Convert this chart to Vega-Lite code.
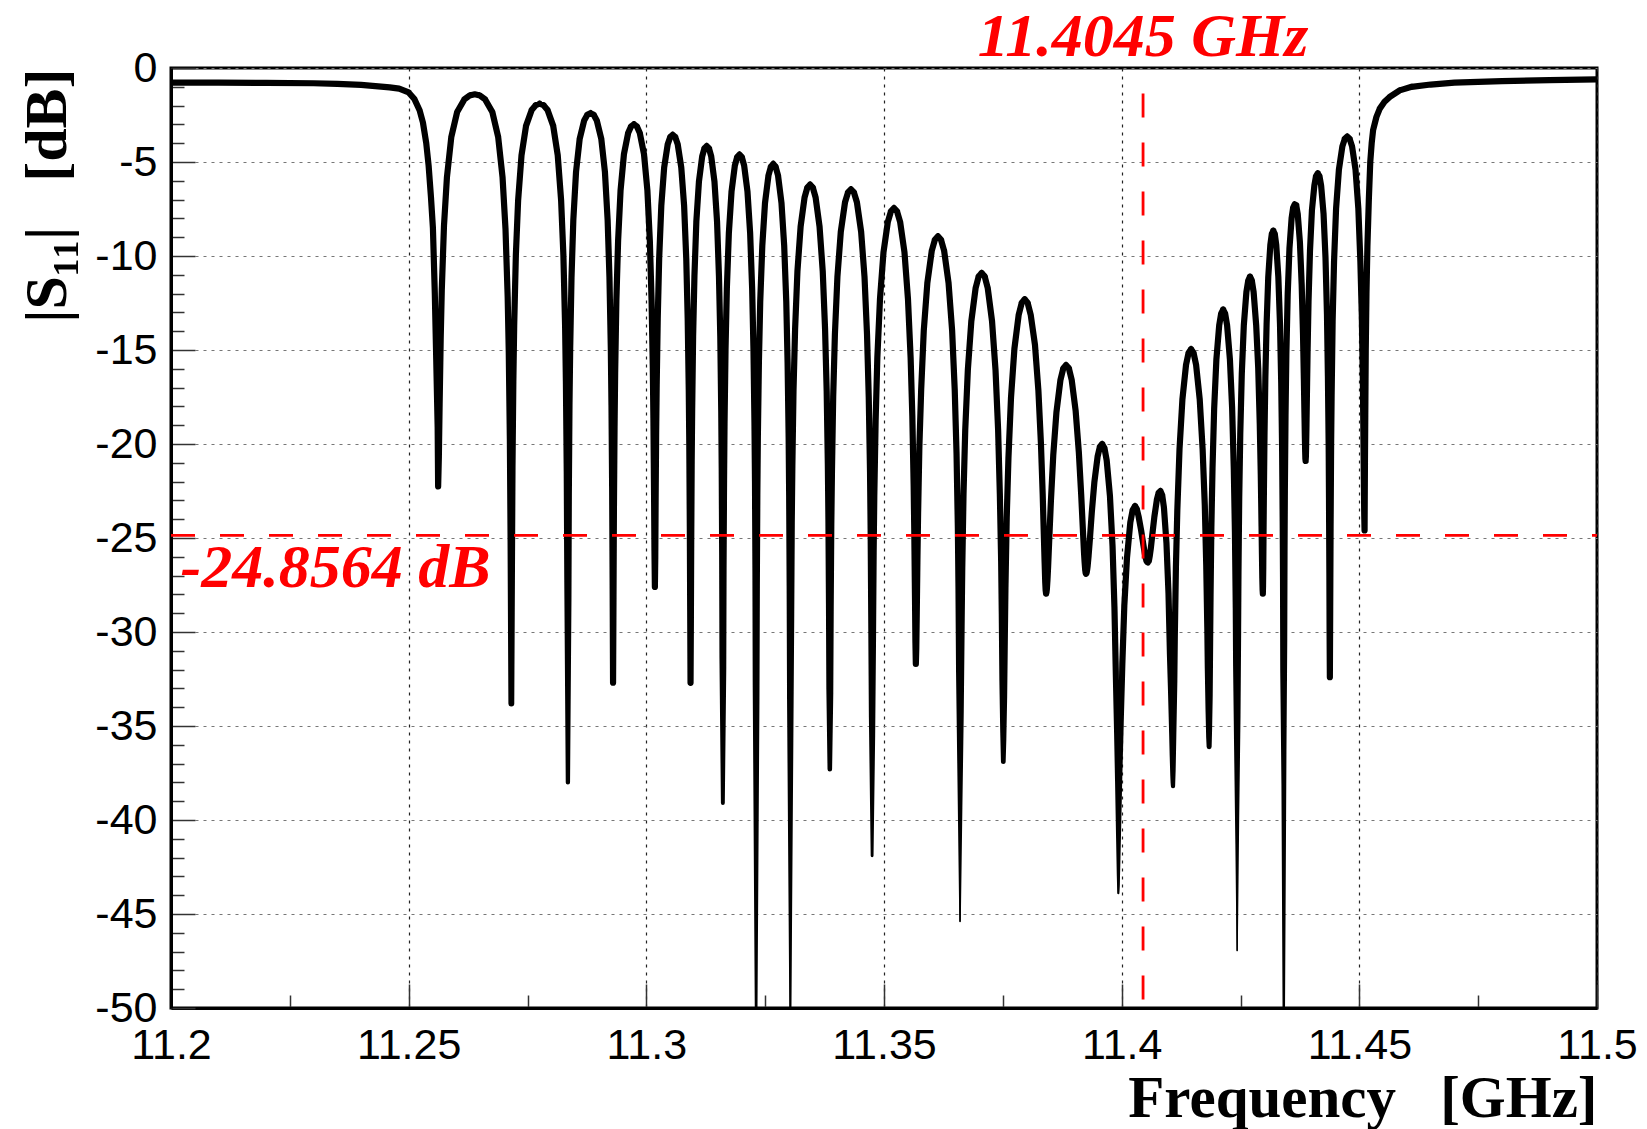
{
  "$schema": "https://vega.github.io/schema/vega-lite/v6.json",
  "width": 1426,
  "height": 940,
  "autosize": {"type": "none"},
  "padding": {"left": 171, "top": 68, "right": 50, "bottom": 121},
  "background": "white",
  "config": {"view": {"stroke": "black", "strokeWidth": 3}, "font": "Liberation Sans"},
  "datasets": {
    "curve": [
      {"f":11.2,"db":-0.78},{"f":11.21,"db":-0.78},{"f":11.22,"db":-0.79},{"f":11.23,"db":-0.81},{"f":11.235,"db":-0.84},{"f":11.24,"db":-0.9},{"f":11.243,"db":-0.96},{"f":11.246,"db":-1.03},{"f":11.248,"db":-1.1},{"f":11.25,"db":-1.3},{"f":11.2512,"db":-1.65},{"f":11.2523,"db":-2.25},{"f":11.253,"db":-2.9},{"f":11.2537,"db":-4.0},{"f":11.2542,"db":-5.2},{"f":11.2547,"db":-6.9},{"f":11.2551,"db":-8.5},{"f":11.2555,"db":-12.0},{"f":11.2558,"db":-15.5},{"f":11.2561,"db":-19.1},
      {"f":11.2562,"db":-22.26},
      {"f":11.25635,"db":-20.69},{"f":11.25651,"db":-17.91},{"f":11.25674,"db":-14.36},{"f":11.25697,"db":-11.77},{"f":11.25743,"db":-8.4},{"f":11.25805,"db":-5.81},{"f":11.25897,"db":-3.67},{"f":11.2602,"db":-2.34},{"f":11.26174,"db":-1.66},{"f":11.26282,"db":-1.46},{"f":11.2639,"db":-1.4},{"f":11.26498,"db":-1.46},{"f":11.26606,"db":-1.66},{"f":11.2676,"db":-2.34},{"f":11.26883,"db":-3.67},{"f":11.26975,"db":-5.81},{"f":11.27037,"db":-8.55},{"f":11.27083,"db":-12.18},{"f":11.27106,"db":-15.13},{"f":11.27129,"db":-19.71},{"f":11.27145,"db":-25.24},
      {"f":11.2716,"db":-33.8},
      {"f":11.27172,"db":-26.55},{"f":11.27184,"db":-21.22},{"f":11.27202,"db":-16.68},{"f":11.2722,"db":-13.69},{"f":11.27255,"db":-9.95},{"f":11.27303,"db":-7.03},{"f":11.27374,"db":-4.64},{"f":11.27469,"db":-3.08},{"f":11.27588,"db":-2.23},{"f":11.27672,"db":-1.98},{"f":11.27755,"db":-1.9},{"f":11.27838,"db":-1.98},{"f":11.27922,"db":-2.23},{"f":11.28041,"db":-3.08},{"f":11.28136,"db":-4.64},{"f":11.28207,"db":-7.03},{"f":11.28255,"db":-9.95},{"f":11.28291,"db":-13.69},{"f":11.28308,"db":-16.68},{"f":11.28326,"db":-21.47},{"f":11.28338,"db":-27.09},
      {"f":11.2835,"db":-38.0},
      {"f":11.2836,"db":-28.26},{"f":11.28369,"db":-22.74},{"f":11.28383,"db":-17.94},{"f":11.28398,"db":-14.93},{"f":11.28426,"db":-11.12},{"f":11.28464,"db":-8.09},{"f":11.28521,"db":-5.53},{"f":11.28597,"db":-3.78},{"f":11.28692,"db":-2.79},{"f":11.28759,"db":-2.49},{"f":11.28825,"db":-2.4},{"f":11.28892,"db":-2.49},{"f":11.28958,"db":-2.79},{"f":11.29053,"db":-3.78},{"f":11.29129,"db":-5.53},{"f":11.29186,"db":-8.09},{"f":11.29224,"db":-11.12},{"f":11.29253,"db":-14.93},{"f":11.29267,"db":-17.94},{"f":11.29281,"db":-22.33},{"f":11.29291,"db":-27.28},
      {"f":11.293,"db":-32.7},
      {"f":11.29309,"db":-28.16},{"f":11.29318,"db":-23.49},{"f":11.29331,"db":-19.22},{"f":11.29344,"db":-16.19},{"f":11.2937,"db":-12.33},{"f":11.29406,"db":-9.21},{"f":11.29458,"db":-6.5},{"f":11.29529,"db":-4.58},{"f":11.29617,"db":-3.46},{"f":11.29678,"db":-3.11},{"f":11.2974,"db":-3.0},{"f":11.29802,"db":-3.11},{"f":11.29863,"db":-3.46},{"f":11.29951,"db":-4.58},{"f":11.30022,"db":-6.5},{"f":11.30074,"db":-9.21},{"f":11.3011,"db":-12.33},{"f":11.30136,"db":-15.88},{"f":11.30149,"db":-18.63},{"f":11.30162,"db":-22.45},{"f":11.30171,"db":-25.64},
      {"f":11.3018,"db":-27.6},
      {"f":11.30188,"db":-25.99},{"f":11.30195,"db":-23.14},{"f":11.30206,"db":-19.52},{"f":11.30218,"db":-16.83},{"f":11.3024,"db":-13.32},{"f":11.3027,"db":-10.14},{"f":11.30315,"db":-7.33},{"f":11.30375,"db":-5.29},{"f":11.3045,"db":-4.06},{"f":11.30503,"db":-3.67},{"f":11.30555,"db":-3.55},{"f":11.30608,"db":-3.67},{"f":11.3066,"db":-4.06},{"f":11.30735,"db":-5.29},{"f":11.30795,"db":-7.33},{"f":11.3084,"db":-10.14},{"f":11.3087,"db":-13.32},{"f":11.30893,"db":-17.21},{"f":11.30904,"db":-20.01},{"f":11.30915,"db":-24.38},{"f":11.30923,"db":-28.81},
      {"f":11.3093,"db":-32.7},
      {"f":11.30937,"db":-29.38},{"f":11.30944,"db":-25.23},{"f":11.30954,"db":-20.96},{"f":11.30964,"db":-18.22},{"f":11.30984,"db":-14.3},{"f":11.31012,"db":-11.07},{"f":11.31052,"db":-8.18},{"f":11.31107,"db":-6.03},{"f":11.31175,"db":-4.7},{"f":11.31222,"db":-4.28},{"f":11.3127,"db":-4.15},{"f":11.31318,"db":-4.28},{"f":11.31365,"db":-4.7},{"f":11.31433,"db":-6.03},{"f":11.31488,"db":-8.18},{"f":11.31528,"db":-11.07},{"f":11.31556,"db":-14.3},{"f":11.31576,"db":-18.22},{"f":11.31586,"db":-21.26},{"f":11.31596,"db":-25.88},{"f":11.31603,"db":-31.31},
      {"f":11.3161,"db":-39.1},
      {"f":11.31617,"db":-31.89},{"f":11.31624,"db":-26.55},{"f":11.31635,"db":-21.97},{"f":11.31645,"db":-18.92},{"f":11.31666,"db":-14.98},{"f":11.31694,"db":-11.73},{"f":11.31736,"db":-8.79},{"f":11.31792,"db":-6.58},{"f":11.31862,"db":-5.19},{"f":11.31911,"db":-4.74},{"f":11.3196,"db":-4.6},{"f":11.32009,"db":-4.74},{"f":11.32058,"db":-5.19},{"f":11.32128,"db":-6.58},{"f":11.32184,"db":-8.79},{"f":11.32226,"db":-11.73},{"f":11.32254,"db":-14.98},{"f":11.32275,"db":-18.92},{"f":11.32286,"db":-21.97},{"f":11.32296,"db":-26.8},{"f":11.32303,"db":-32.81},
      {"f":11.3231,"db":-56},
      {"f":11.32317,"db":-33.56},{"f":11.32324,"db":-27.54},{"f":11.32335,"db":-22.71},{"f":11.32346,"db":-19.65},{"f":11.32368,"db":-15.7},{"f":11.32396,"db":-12.43},{"f":11.3244,"db":-9.44},{"f":11.32497,"db":-7.17},{"f":11.32569,"db":-5.72},{"f":11.3262,"db":-5.25},{"f":11.3267,"db":-5.1},{"f":11.3272,"db":-5.25},{"f":11.32771,"db":-5.72},{"f":11.32843,"db":-7.17},{"f":11.329,"db":-9.44},{"f":11.32944,"db":-12.43},{"f":11.32972,"db":-15.7},{"f":11.32994,"db":-19.65},{"f":11.33005,"db":-22.71},{"f":11.33016,"db":-27.54},{"f":11.33023,"db":-33.56},
      {"f":11.3303,"db":-53},
      {"f":11.33038,"db":-35.07},{"f":11.33047,"db":-29.05},{"f":11.33059,"db":-24.22},{"f":11.33072,"db":-21.15},{"f":11.33096,"db":-17.18},{"f":11.3313,"db":-13.87},{"f":11.33179,"db":-10.81},{"f":11.33246,"db":-8.43},{"f":11.33329,"db":-6.88},{"f":11.33387,"db":-6.36},{"f":11.33445,"db":-6.2},{"f":11.33503,"db":-6.36},{"f":11.33561,"db":-6.88},{"f":11.33644,"db":-8.43},{"f":11.33711,"db":-10.81},{"f":11.3376,"db":-13.87},{"f":11.33794,"db":-17.18},{"f":11.33819,"db":-21.15},{"f":11.33831,"db":-24.02},{"f":11.33843,"db":-28.45},{"f":11.33852,"db":-33.03},
      {"f":11.3386,"db":-37.3},
      {"f":11.33869,"db":-33.24},{"f":11.33878,"db":-28.73},{"f":11.33891,"db":-24.32},{"f":11.33905,"db":-21.48},{"f":11.33931,"db":-17.5},{"f":11.33967,"db":-14.18},{"f":11.3402,"db":-11.11},{"f":11.34091,"db":-8.71},{"f":11.3418,"db":-7.14},{"f":11.34243,"db":-6.62},{"f":11.34305,"db":-6.45},{"f":11.34367,"db":-6.62},{"f":11.3443,"db":-7.14},{"f":11.34519,"db":-8.71},{"f":11.3459,"db":-11.11},{"f":11.34643,"db":-14.18},{"f":11.34679,"db":-17.5},{"f":11.34706,"db":-21.48},{"f":11.34719,"db":-24.54},{"f":11.34732,"db":-29.14},{"f":11.34741,"db":-34.52},
      {"f":11.3475,"db":-41.9},
      {"f":11.34759,"db":-35.52},{"f":11.34768,"db":-30.31},{"f":11.34782,"db":-25.79},{"f":11.34796,"db":-22.72},{"f":11.34824,"db":-18.74},{"f":11.3486,"db":-15.4},{"f":11.34916,"db":-12.27},{"f":11.34989,"db":-9.81},{"f":11.35081,"db":-8.18},{"f":11.35146,"db":-7.63},{"f":11.3521,"db":-7.45},{"f":11.35274,"db":-7.63},{"f":11.35339,"db":-8.18},{"f":11.35431,"db":-9.81},{"f":11.35504,"db":-12.27},{"f":11.3556,"db":-15.4},{"f":11.35596,"db":-18.52},{"f":11.35624,"db":-22.21},{"f":11.35638,"db":-24.8},{"f":11.35652,"db":-28.12},{"f":11.35661,"db":-30.5},
      {"f":11.3567,"db":-31.7},
      {"f":11.35679,"db":-30.86},{"f":11.35689,"db":-29.03},{"f":11.35703,"db":-26.14},{"f":11.35717,"db":-23.73},{"f":11.35744,"db":-20.16},{"f":11.35782,"db":-17.12},{"f":11.35837,"db":-13.96},{"f":11.35912,"db":-11.43},{"f":11.36005,"db":-9.72},{"f":11.3607,"db":-9.14},{"f":11.36135,"db":-8.95},{"f":11.362,"db":-9.14},{"f":11.36265,"db":-9.72},{"f":11.36358,"db":-11.43},{"f":11.36433,"db":-13.96},{"f":11.36488,"db":-17.12},{"f":11.36526,"db":-20.49},{"f":11.36554,"db":-24.48},{"f":11.36567,"db":-27.56},{"f":11.36581,"db":-32.19},{"f":11.36591,"db":-37.63},
      {"f":11.366,"db":-45.4},
      {"f":11.36609,"db":-39.35},{"f":11.36618,"db":-34.22},{"f":11.36632,"db":-29.73},{"f":11.36646,"db":-26.65},{"f":11.36673,"db":-22.65},{"f":11.36709,"db":-19.26},{"f":11.36764,"db":-16.06},{"f":11.36837,"db":-13.47},{"f":11.36928,"db":-11.7},{"f":11.36991,"db":-11.09},{"f":11.37055,"db":-10.9},{"f":11.37119,"db":-11.09},{"f":11.37182,"db":-11.7},{"f":11.37273,"db":-13.47},{"f":11.37346,"db":-16.06},{"f":11.37401,"db":-19.26},{"f":11.37437,"db":-22.65},{"f":11.37465,"db":-26.26},{"f":11.37478,"db":-28.96},{"f":11.37492,"db":-32.57},{"f":11.37501,"db":-35.35},
      {"f":11.3751,"db":-36.9},
      {"f":11.37519,"db":-35.75},{"f":11.37528,"db":-33.46},{"f":11.37542,"db":-30.19},{"f":11.37555,"db":-27.61},{"f":11.37582,"db":-23.91},{"f":11.37618,"db":-20.75},{"f":11.37672,"db":-17.53},{"f":11.37744,"db":-14.92},{"f":11.37834,"db":-13.12},{"f":11.37897,"db":-12.5},{"f":11.3796,"db":-12.3},{"f":11.38023,"db":-12.5},{"f":11.38086,"db":-13.12},{"f":11.38176,"db":-14.72},{"f":11.38248,"db":-17.15},{"f":11.38302,"db":-20.0},{"f":11.38338,"db":-22.63},{"f":11.38365,"db":-25.04},{"f":11.38379,"db":-26.28},{"f":11.38392,"db":-27.34},{"f":11.38401,"db":-27.79},
      {"f":11.3841,"db":-27.96},
      {"f":11.38418,"db":-27.89},{"f":11.38427,"db":-27.7},{"f":11.38439,"db":-27.22},{"f":11.38452,"db":-26.56},{"f":11.38477,"db":-25.04},{"f":11.38511,"db":-23.05},{"f":11.38561,"db":-20.59},{"f":11.38628,"db":-18.3},{"f":11.38712,"db":-16.59},{"f":11.38771,"db":-15.98},{"f":11.3883,"db":-15.8},{"f":11.38889,"db":-15.97},{"f":11.38948,"db":-16.58},{"f":11.39032,"db":-18.24},{"f":11.39099,"db":-20.44},{"f":11.39149,"db":-22.72},{"f":11.39183,"db":-24.5},{"f":11.39208,"db":-25.79},{"f":11.39221,"db":-26.31},{"f":11.39233,"db":-26.7},{"f":11.39242,"db":-26.85},
      {"f":11.3925,"db":-26.9},
      {"f":11.39257,"db":-26.88},{"f":11.39264,"db":-26.83},{"f":11.39274,"db":-26.69},{"f":11.39284,"db":-26.49},{"f":11.39304,"db":-25.95},{"f":11.39332,"db":-25.04},{"f":11.39372,"db":-23.62},{"f":11.39427,"db":-22.0},{"f":11.39495,"db":-20.65},{"f":11.39542,"db":-20.15},{"f":11.3959,"db":-20.0},{"f":11.39638,"db":-20.21},{"f":11.39685,"db":-20.87},{"f":11.39753,"db":-22.75},{"f":11.39808,"db":-25.42},{"f":11.39848,"db":-28.68},{"f":11.39876,"db":-32.09},{"f":11.39896,"db":-35.44},{"f":11.39906,"db":-37.93},{"f":11.39916,"db":-40.96},{"f":11.39923,"db":-42.95},
      {"f":11.3993,"db":-43.9},
      {"f":11.39937,"db":-43.43},{"f":11.39944,"db":-42.28},{"f":11.39955,"db":-40.13},{"f":11.39965,"db":-38.1},{"f":11.39986,"db":-34.82},{"f":11.40014,"db":-31.7},{"f":11.40056,"db":-28.59},{"f":11.40112,"db":-26.05},{"f":11.40182,"db":-24.17},{"f":11.40231,"db":-23.51},{"f":11.4028,"db":-23.3},{"f":11.40318,"db":-23.45},{"f":11.40356,"db":-23.85},{"f":11.4041,"db":-24.6},{"f":11.40453,"db":-25.3},{"f":11.40485,"db":-25.8},{"f":11.40507,"db":-26.08},{"f":11.40523,"db":-26.22},{"f":11.40539,"db":-26.28},
      {"f":11.4055,"db":-26.3},
      {"f":11.40569,"db":-26.23},{"f":11.40577,"db":-26.15},{"f":11.40592,"db":-25.94},{"f":11.40614,"db":-25.54},{"f":11.40645,"db":-24.82},{"f":11.40688,"db":-23.87},{"f":11.40741,"db":-22.96},{"f":11.40778,"db":-22.6},{"f":11.40815,"db":-22.5},{"f":11.40852,"db":-22.71},{"f":11.40889,"db":-23.37},{"f":11.40942,"db":-25.25},{"f":11.40985,"db":-27.92},{"f":11.41016,"db":-31.18},{"f":11.41038,"db":-33.02},{"f":11.41054,"db":-35.39},{"f":11.41061,"db":-36.59},{"f":11.41069,"db":-37.6},{"f":11.41075,"db":-38.04},
      {"f":11.4108,"db":-38.2},
      {"f":11.41088,"db":-37.35},{"f":11.41095,"db":-35.5},{"f":11.41107,"db":-32.59},{"f":11.41118,"db":-30.18},{"f":11.41141,"db":-26.59},{"f":11.41171,"db":-23.51},{"f":11.41217,"db":-20.27},{"f":11.41278,"db":-17.63},{"f":11.41354,"db":-15.79},{"f":11.41407,"db":-15.16},{"f":11.4146,"db":-14.95},{"f":11.41513,"db":-15.16},{"f":11.41566,"db":-15.79},{"f":11.41642,"db":-17.63},{"f":11.41703,"db":-20.27},{"f":11.41749,"db":-23.28},{"f":11.41779,"db":-26.42},{"f":11.41802,"db":-29.77},{"f":11.41813,"db":-31.91},{"f":11.41825,"db":-34.25},{"f":11.41832,"db":-35.56},
      {"f":11.4184,"db":-36.1},
      {"f":11.41846,"db":-35.23},{"f":11.41852,"db":-33.36},{"f":11.41861,"db":-30.43},{"f":11.4187,"db":-28.01},{"f":11.41887,"db":-24.42},{"f":11.41911,"db":-21.33},{"f":11.41946,"db":-18.11},{"f":11.41993,"db":-15.49},{"f":11.42052,"db":-13.68},{"f":11.42094,"db":-13.05},{"f":11.42135,"db":-12.85},{"f":11.42176,"db":-13.05},{"f":11.42218,"db":-13.68},{"f":11.42277,"db":-15.49},{"f":11.42324,"db":-18.11},{"f":11.42359,"db":-21.33},{"f":11.42383,"db":-24.72},{"f":11.42401,"db":-28.74},{"f":11.42409,"db":-31.81},{"f":11.42418,"db":-36.27},{"f":11.42424,"db":-41.29},
      {"f":11.4243,"db":-46.95},
      {"f":11.42435,"db":-39.86},{"f":11.42441,"db":-34.53},{"f":11.42449,"db":-29.94},{"f":11.42457,"db":-26.87},{"f":11.42473,"db":-22.86},{"f":11.42495,"db":-19.48},{"f":11.42527,"db":-16.27},{"f":11.4257,"db":-13.68},{"f":11.42624,"db":-11.91},{"f":11.42663,"db":-11.3},{"f":11.427,"db":-11.1},{"f":11.42738,"db":-11.3},{"f":11.42776,"db":-11.91},{"f":11.4283,"db":-13.68},{"f":11.42873,"db":-15.98},{"f":11.42905,"db":-18.9},{"f":11.42927,"db":-21.69},{"f":11.42943,"db":-24.38},{"f":11.42951,"db":-25.83},{"f":11.42959,"db":-27.14},{"f":11.42965,"db":-27.74},
      {"f":11.4297,"db":-27.96},
      {"f":11.42974,"db":-27.56},{"f":11.42979,"db":-26.53},{"f":11.42985,"db":-24.57},{"f":11.42992,"db":-22.63},{"f":11.43005,"db":-19.48},{"f":11.43023,"db":-16.46},{"f":11.43049,"db":-13.63},{"f":11.43084,"db":-11.11},{"f":11.43128,"db":-9.41},{"f":11.43159,"db":-8.83},{"f":11.4319,"db":-8.65},{"f":11.43221,"db":-8.83},{"f":11.43252,"db":-9.41},{"f":11.43296,"db":-11.11},{"f":11.43331,"db":-13.63},{"f":11.43357,"db":-16.79},{"f":11.43375,"db":-20.15},{"f":11.43388,"db":-24.14},{"f":11.43395,"db":-27.21},{"f":11.43401,"db":-32.06},{"f":11.43406,"db":-38.07},
      {"f":11.4341,"db":-56},
      {"f":11.43415,"db":-36.4},{"f":11.43419,"db":-30.39},{"f":11.43426,"db":-25.55},{"f":11.43433,"db":-22.48},{"f":11.43447,"db":-18.5},{"f":11.43465,"db":-15.16},{"f":11.43493,"db":-12.04},{"f":11.4353,"db":-9.59},{"f":11.43576,"db":-7.97},{"f":11.43608,"db":-7.42},{"f":11.4364,"db":-7.25},{"f":11.43672,"db":-7.3},{"f":11.43704,"db":-7.77},{"f":11.4375,"db":-9.27},{"f":11.43787,"db":-11.51},{"f":11.43815,"db":-14.14},{"f":11.43833,"db":-16.52},{"f":11.43847,"db":-18.61},{"f":11.43854,"db":-19.62},{"f":11.43861,"db":-20.43},{"f":11.43865,"db":-20.78},
      {"f":11.4387,"db":-20.9},
      {"f":11.43875,"db":-20.7},{"f":11.4388,"db":-20.17},{"f":11.43888,"db":-18.97},{"f":11.43896,"db":-17.59},{"f":11.43911,"db":-15.08},{"f":11.43931,"db":-12.43},{"f":11.43962,"db":-9.72},{"f":11.44003,"db":-7.55},{"f":11.44054,"db":-6.25},{"f":11.44089,"db":-5.75},{"f":11.44125,"db":-5.6},{"f":11.44161,"db":-5.75},{"f":11.44196,"db":-6.25},{"f":11.44247,"db":-7.75},{"f":11.44288,"db":-10.07},{"f":11.44319,"db":-13.1},{"f":11.44339,"db":-16.39},{"f":11.44355,"db":-20.08},{"f":11.44362,"db":-22.9},{"f":11.4437,"db":-26.83},{"f":11.44375,"db":-30.22},
      {"f":11.4438,"db":-32.4},
      {"f":11.44387,"db":-28.8},{"f":11.44395,"db":-24.48},{"f":11.44406,"db":-20.16},{"f":11.44417,"db":-17.39},{"f":11.44438,"db":-13.49},{"f":11.44468,"db":-10.3},{"f":11.44511,"db":-7.47},{"f":11.4457,"db":-5.41},{"f":11.44643,"db":-4.17},{"f":11.44694,"db":-3.77},{"f":11.44745,"db":-3.65},{"f":11.44796,"db":-3.77},{"f":11.44847,"db":-4.17},{"f":11.4492,"db":-5.41},{"f":11.44979,"db":-7.47},{"f":11.45022,"db":-10.3},{"f":11.45052,"db":-13.16},{"f":11.45074,"db":-16.63},{"f":11.45084,"db":-19.02},{"f":11.45095,"db":-21.9},{"f":11.45103,"db":-23.74},
      {"f":11.4511,"db":-24.6},
      {"f":11.45118,"db":-21.0},{"f":11.45125,"db":-18.5},{"f":11.45135,"db":-15.0},{"f":11.4515,"db":-12.0},{"f":11.4517,"db":-9.5},{"f":11.452,"db":-7.0},{"f":11.4523,"db":-5.0},{"f":11.4526,"db":-4.0},{"f":11.4529,"db":-3.3},{"f":11.4536,"db":-2.6},{"f":11.4543,"db":-2.16},{"f":11.4553,"db":-1.8},{"f":11.4564,"db":-1.54},{"f":11.4585,"db":-1.19},{"f":11.461,"db":-1.0},{"f":11.465,"db":-0.88},{"f":11.47,"db":-0.78},{"f":11.48,"db":-0.7},{"f":11.49,"db":-0.64},{"f":11.5,"db":-0.6}
    ],
    "guides": [
      {"f": 11.2, "f2": 11.5, "db": -24.8564, "db2": -24.8564},
      {"f": 11.4045, "f2": 11.4045, "db": -1.35, "db2": -50}
    ],
    "freqLabel": [{"f": 11.4045, "db": 0.62, "label": "11.4045 GHz"}],
    "dbLabel": [{"f": 11.202, "db": -27.58, "label": "-24.8564 dB"}]
  },
  "encoding": {
    "x": {
      "field": "f", "type": "quantitative",
      "scale": {"domain": [11.2, 11.5], "nice": false, "zero": false},
      "axis": {
        "values": [11.2, 11.225, 11.25, 11.275, 11.3, 11.325, 11.35, 11.375, 11.4, 11.425, 11.45, 11.475, 11.5],
        "labelExpr": "round(datum.value*1000) % 50 === 0 ? format(datum.value, '.4~g') : ''",
        "labelFont": "Liberation Sans", "labelFontSize": 43, "labelColor": "black",
        "labelPadding": 40, "labelOverlap": false, "labelFlush": false,
        "tickSize": {"condition": {"test": "round(datum.value*1000) % 50 === 0", "value": -24}, "value": -13},
        "tickColor": "#333", "tickWidth": 1.5,
        "domainColor": "black", "domainWidth": 3,
        "grid": true, "gridColor": "#222", "gridDash": [3, 5], "gridWidth": 1.2,
        "gridOpacity": {"condition": {"test": "round(datum.value*1000) % 50 === 0", "value": 1}, "value": 0},
        "title": "Frequency\u00a0\u00a0\u00a0[GHz]",
        "titleFont": "Liberation Serif", "titleFontWeight": "bold", "titleFontSize": 59, "titleColor": "black",
        "titleAnchor": "end", "titleAlign": "right", "titleBaseline": "alphabetic", "titleX": 1426, "titleY": 108
      }
    },
    "y": {
      "field": "db", "type": "quantitative",
      "scale": {"domain": [-50, 0], "nice": false, "zero": false},
      "axis": {
        "values": [0,-1,-2,-3,-4,-5,-6,-7,-8,-9,-10,-11,-12,-13,-14,-15,-16,-17,-18,-19,-20,-21,-22,-23,-24,-25,-26,-27,-28,-29,-30,-31,-32,-33,-34,-35,-36,-37,-38,-39,-40,-41,-42,-43,-44,-45,-46,-47,-48,-49,-50],
        "labelExpr": "datum.value % 5 === 0 ? '' + datum.value : ''",
        "labelFont": "Liberation Sans", "labelFontSize": 43, "labelColor": "black",
        "labelPadding": 38, "labelOverlap": false, "labelFlush": false,
        "tickSize": {"condition": {"test": "datum.value % 5 === 0", "value": -24}, "value": -13},
        "tickColor": "#333", "tickWidth": 1.5,
        "domainColor": "black", "domainWidth": 3,
        "grid": true, "gridColor": "#777", "gridDash": [3, 5], "gridWidth": 1.2,
        "gridOpacity": {"condition": {"test": "datum.value % 5 === 0", "value": 1}, "value": 0},
        "title": "|S\u2081\u2081|\u00a0\u00a0\u00a0[dB]",
        "titleFont": "Liberation Serif", "titleFontWeight": "bold", "titleFontSize": 60, "titleColor": "black",
        "titleAnchor": "end", "titleAlign": "right", "titleAngle": 270, "titleBaseline": "middle", "titleX": -124, "titleY": 0
      }
    }
  },
  "layer": [
    {
      "data": {"name": "curve"},
      "mark": {"type": "trail", "color": "black", "clip": true},
      "encoding": {
        "size": {"field": "db", "type": "quantitative", "scale": {"domain": [-46, -33], "range": [1.3, 6.2], "clamp": true}, "legend": null}
      }
    },
    {
      "data": {"name": "curve"},
      "mark": {"type": "line", "color": "black", "strokeWidth": 1.3, "clip": true}
    },
    {
      "data": {"name": "guides"},
      "mark": {"type": "rule", "color": "#ff0000", "strokeWidth": 2.8, "strokeDash": [24, 25]},
      "encoding": {
        "x2": {"field": "f2"},
        "y2": {"field": "db2"}
      }
    },
    {
      "data": {"name": "freqLabel"},
      "mark": {"type": "text", "color": "#ff0000", "font": "Liberation Serif", "fontWeight": "bold", "fontStyle": "italic", "fontSize": 62, "align": "center", "baseline": "alphabetic"},
      "encoding": {"text": {"field": "label"}}
    },
    {
      "data": {"name": "dbLabel"},
      "mark": {"type": "text", "color": "#ff0000", "font": "Liberation Serif", "fontWeight": "bold", "fontStyle": "italic", "fontSize": 62, "align": "left", "baseline": "alphabetic"},
      "encoding": {"text": {"field": "label"}}
    }
  ]
}
